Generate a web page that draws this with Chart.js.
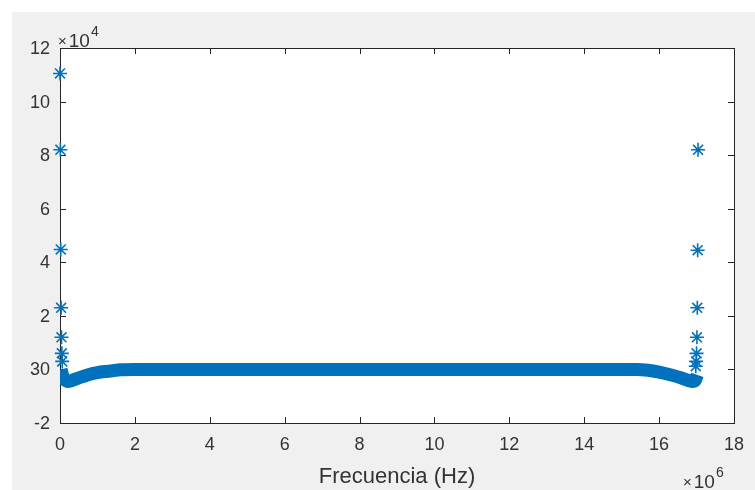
<!DOCTYPE html>
<html lang="es">
<head>
    <meta charset="UTF-8">
    <title>Frecuencia (Hz)</title>
    <script src="https://cdn.jsdelivr.net/npm/chart.js"></script>
    <style>
        body {
        margin: 0;
        background-color: #ffffff;
        width: 755px;
        height: 490px;
        overflow: hidden;
        }
        .fig {
        position: absolute;
        left: 12px;
        top: 12px;
        width: 743px;
        height: 478px;
        background-color: #f0f0f0;
        }
    </style>
</head>
<body>
    <div class="fig">
        <canvas id="fftChart" width="743" height="478"></canvas>
    </div>

    <script>
        // frecuencia en unidades de 1e6 Hz, magnitud en unidades de 1e4
        const spikeFreq = [0, 0.01, 0.02, 0.03, 0.04, 0.05, 0.06,
                           17.04, 17.03, 17.02, 17.01, 17.0, 16.99, 16.98];
        const spikeMag = [11.05, 8.2, 4.48, 2.3, 1.2, 0.6, 0.3,
                          8.2, 4.45, 2.3, 1.2, 0.6, 0.3, 0.12];

        const bandFreq = [0.03, 0.1, 0.2, 0.3, 0.45, 0.6, 0.8, 1.0, 1.2, 1.4, 1.6, 2, 4, 6, 8,
                          10, 12, 14, 15.4, 15.7, 16.0, 16.3, 16.6, 16.8, 16.9, 16.97, 17.02];
        const bandMag = [0.0, -0.35, -0.45, -0.42, -0.34, -0.27, -0.18, -0.12, -0.08, -0.05, -0.01, 0, 0, 0, 0,
                         0, 0, 0, 0, -0.03, -0.1, -0.2, -0.32, -0.42, -0.45, -0.4, -0.2];

        const xTicks = [0, 2, 4, 6, 8, 10, 12, 14, 16, 18];
        const yTicks = [-2, 0, 2, 4, 6, 8, 10, 12];
        const yTickLabels = ['-2', '30', '2', '4', '6', '8', '10', '12'];

        const axisColor = '#262626';
        const textColor = '#333333';
        const blue = '#0072BD';
        const font = "'Liberation Sans', Arial, sans-serif";

        // caja y marcas interiores estilo MATLAB
        const matlabAxes = {
        id: 'matlabAxes',
        beforeDatasetsDraw(chart) {
            const { ctx, chartArea: a, scales } = chart;
            ctx.save();
            ctx.fillStyle = '#ffffff';
            ctx.fillRect(a.left, a.top, a.right - a.left, a.bottom - a.top);
            ctx.strokeStyle = axisColor;
            ctx.lineWidth = 1;
            ctx.strokeRect(a.left + 0.5, a.top + 0.5, a.right - a.left, a.bottom - a.top);
            ctx.beginPath();
            xTicks.forEach(v => {
            const px = Math.round(scales.x.getPixelForValue(v)) + 0.5;
            ctx.moveTo(px, a.bottom); ctx.lineTo(px, a.bottom - 6);
            ctx.moveTo(px, a.top); ctx.lineTo(px, a.top + 6);
            });
            yTicks.forEach(v => {
            const py = Math.round(scales.y.getPixelForValue(v)) + 0.5;
            ctx.moveTo(a.left, py); ctx.lineTo(a.left + 6, py);
            ctx.moveTo(a.right, py); ctx.lineTo(a.right - 6, py);
            });
            ctx.stroke();
            ctx.restore();
        },
        afterDraw(chart) {
            const { ctx } = chart;
            ctx.save();
            ctx.fillStyle = textColor;
            ctx.textBaseline = 'alphabetic';
            const expo = (x, y, exp) => {
            ctx.font = '15px ' + font;
            ctx.fillText('\u00d7', x, y - 1);
            x += ctx.measureText('\u00d7').width + 2;
            ctx.font = '19px ' + font;
            ctx.fillText('10', x, y);
            x += ctx.measureText('10').width + 1;
            ctx.font = '14px ' + font;
            ctx.fillText(exp, x, y - 11);
            };
            expo(46, 35, '4');
            expo(671, 476, '6');
            ctx.restore();
        }
        };

        const ctx = document.getElementById('fftChart').getContext('2d');
        const fftChart = new Chart(ctx, {
        type: 'scatter',
        data: {
            datasets: [{
            label: 'picos',
            data: spikeFreq.map((f, i) => ({ x: f, y: spikeMag[i] })),
            pointStyle: 'star',
            pointRadius: 7,
            borderColor: blue,
            backgroundColor: blue,
            borderWidth: 1.6,
            showLine: false,
            clip: false
            }, {
            label: 'magnitud',
            data: bandFreq.map((f, i) => ({ x: f, y: bandMag[i] })),
            showLine: true,
            pointRadius: 0,
            borderColor: blue,
            borderWidth: 13,
            borderJoinStyle: 'round',
            borderCapStyle: 'butt',
            tension: 0.2
            }]
        },
        options: {
            responsive: false,
            animation: false,
            layout: { padding: { left: 0, top: 36, right: 20, bottom: 0 } },
            plugins: {
            legend: { display: false },
            tooltip: { enabled: false }
            },
            scales: {
            x: {
                type: 'linear',
                min: 0,
                max: 18,
                afterFit: s => { s.height = 67; },
                afterBuildTicks: s => { s.ticks = xTicks.map(v => ({ value: v })); },
                grid: { display: false, drawTicks: false },
                border: { display: false },
                ticks: {
                color: textColor,
                font: { family: font, size: 18 },
                padding: 11,
                maxRotation: 0
                },
                title: {
                display: true,
                text: 'Frecuencia (Hz)',
                color: textColor,
                font: { family: font, size: 22 },
                padding: { top: 0, bottom: 0 }
                }
            },
            y: {
                type: 'linear',
                min: -2,
                max: 12,
                afterFit: s => { s.width = 48; },
                afterBuildTicks: s => { s.ticks = yTicks.map(v => ({ value: v })); },
                grid: { display: false, drawTicks: false },
                border: { display: false },
                ticks: {
                color: textColor,
                font: { family: font, size: 18 },
                padding: 10,
                labelOffset: 1,
                callback: v => yTickLabels[yTicks.indexOf(v)]
                }
            }
            }
        },
        plugins: [matlabAxes]
        });
    </script>
</body>
</html>
